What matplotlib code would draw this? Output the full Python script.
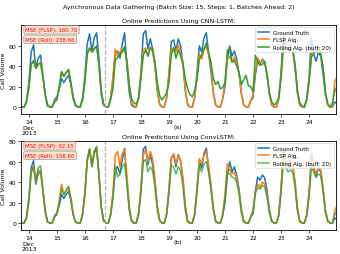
import numpy as np
import matplotlib
matplotlib.use("Agg")
import matplotlib.pyplot as plt

# ---------------- data (2-hourly, from Dec 13 18:00) ----------------
start_day = 13.75          # Dec 13, 18:00
step_hours = 2
boundary_day = 16.73       # start of online predictions
day_ticks = [14, 15, 16, 17, 18, 19, 20, 21, 22, 23, 24]
day_labels = ["14\nDec\n2013", "15", "16", "17", "18", "19", "20", "21", "22", "23", "24"]

ground_truth = [
    0, 0, 6,
    24, 54, 61, 38, 48, 51, 32, 12, 1, 0, 0, 7,
    10, 17, 28, 24, 28, 31, 22, 8, 1, 0, 0, 9,
    30, 62, 72, 55, 68, 73, 48, 16, 3, 0, 0, 9,
    26, 52, 55, 48, 62, 73, 40, 14, 2, 0, 0, 10,
    34, 72, 75, 57, 67, 57, 40, 16, 3, 0, 0, 9,
    32, 64, 66, 55, 67, 60, 42, 16, 2, 0, 0, 9,
    34, 60, 54, 68, 73, 52, 34, 14, 2, 0, 0, 8,
    20, 47, 60, 50, 55, 47, 33, 13, 2, 0, 0, 6,
    9, 32, 45, 42, 47, 44, 32, 13, 2, 0, 0, 8,
    34, 72, 60, 56, 62, 56, 38, 14, 2, 0, 0, 8,
    30, 68, 52, 45, 54, 50, 32, 12, 2, 0, 0, 5,
    3,
]

cnn_flsp = [
    0, 0, 5,
    20, 42, 46, 38, 42, 44, 30, 12, 2, 0, 0, 5,
    8, 20, 34, 30, 34, 36, 24, 9, 2, 0, 0, 7,
    26, 52, 58, 54, 57, 60, 42, 14, 2, 0, 0, 8,
    30, 57, 50, 54, 58, 55, 47, 20, 4, 1, 0, 9,
    32, 56, 58, 50, 59, 54, 42, 16, 2, 0, 0, 9,
    34, 57, 58, 54, 61, 52, 44, 17, 3, 0, 0, 10,
    30, 52, 47, 56, 60, 51, 40, 15, 2, 0, 0, 8,
    25, 47, 50, 44, 49, 44, 33, 13, 2, 0, 0, 6,
    12, 36, 48, 44, 46, 43, 32, 12, 2, 0, 0, 8,
    32, 56, 61, 57, 61, 54, 41, 15, 2, 0, 0, 8,
    27, 52, 56, 54, 58, 51, 40, 14, 2, 0, 0, 25,
    30,
]

cnn_roll = [
    0, 0, 5,
    19, 42, 45, 38, 42, 43, 30, 12, 2, 0, 0, 5,
    7, 20, 35, 30, 34, 37, 24, 9, 2, 0, 0, 7,
    25, 52, 58, 54, 57, 60, 42, 13, 2, 0, 0, 7,
    18, 46, 49, 52, 54, 59, 43, 22, 8, 4, 3, 8,
    28, 51, 56, 50, 58, 57, 44, 24, 11, 7, 10, 14,
    24, 52, 58, 48, 56, 50, 42, 28, 18, 12, 10, 16,
    26, 47, 51, 57, 63, 53, 44, 28, 22, 25, 18, 19,
    24, 56, 57, 44, 46, 40, 34, 22, 27, 31, 21, 20,
    15, 51, 44, 41, 42, 45, 31, 14, 5, 2, 4, 9,
    29, 65, 57, 56, 57, 57, 42, 16, 4, 1, 0, 7,
    24, 49, 53, 54, 58, 52, 38, 14, 3, 0, 4, 16,
    20,
]

conv_flsp = [
    0, 0, 5,
    22, 50, 56, 40, 52, 50, 32, 11, 1, 0, 0, 6,
    9, 22, 38, 28, 32, 35, 24, 8, 1, 0, 0, 8,
    28, 60, 72, 56, 70, 74, 48, 15, 2, 0, 0, 8,
    30, 66, 70, 55, 68, 72, 46, 17, 3, 0, 0, 10,
    32, 66, 72, 60, 70, 63, 44, 17, 3, 0, 0, 9,
    34, 63, 68, 58, 66, 61, 44, 17, 2, 0, 0, 9,
    32, 63, 58, 66, 70, 56, 38, 15, 2, 0, 0, 8,
    29, 58, 52, 48, 50, 43, 31, 12, 2, 0, 0, 6,
    13, 31, 38, 35, 40, 38, 28, 11, 2, 0, 0, 8,
    34, 68, 62, 58, 62, 56, 41, 14, 2, 0, 0, 8,
    29, 62, 55, 48, 55, 52, 35, 12, 2, 0, 0, 12,
    17,
]

conv_roll = [
    0, 0, 5,
    21, 49, 55, 40, 54, 56, 34, 11, 1, 0, 0, 6,
    8, 20, 33, 28, 32, 36, 24, 8, 1, 0, 0, 8,
    28, 61, 73, 56, 70, 75, 48, 15, 2, 0, 0, 7,
    24, 56, 45, 48, 55, 58, 38, 12, 2, 0, 0, 8,
    29, 60, 62, 50, 55, 51, 35, 12, 2, 0, 0, 8,
    29, 56, 55, 48, 55, 51, 35, 12, 1, 0, 0, 8,
    29, 56, 50, 58, 60, 49, 33, 12, 1, 0, 0, 7,
    24, 50, 48, 45, 44, 40, 29, 10, 1, 0, 0, 5,
    11, 29, 35, 33, 37, 35, 25, 10, 1, 0, 0, 7,
    29, 60, 55, 50, 52, 49, 35, 12, 1, 0, 0, 7,
    26, 55, 50, 45, 48, 46, 31, 10, 1, 0, 0, 8,
    12,
]

mse_cnn = ["MSE (FLSP): 180.78", "MSE (Roll): 238.66"]
mse_conv = ["MSE (FLSP): 92.15", "MSE (Roll): 158.60"]
series_labels = ["Ground Truth", "FLSP Alg.", "Rolling Alg. (buff: 20)"]

# ---------------- plotting ----------------
plt.rcParams['font.family'] = ['DejaVu Sans']
FS = 4.4

x = start_day + np.arange(len(ground_truth)) * step_hours / 24.0

fig = plt.figure(figsize=(3.4, 2.55), dpi=100)
ax1 = fig.add_axes([21/340, 1-115/255, 315/340, 89/255])
ax2 = fig.add_axes([21/340, 1-231/255, 315/340, 89/255])

fig.text(0.525, 1-7/255, "Aynchronous Data Gathering (Batch Size: 15, Steps: 1, Batches Ahead: 2)",
         ha='center', va='center', fontsize=4.5)

colors = ['#1f77b4', '#ff7f0e', '#2ca02c']

def panel(ax, flsp, roll, title, mse, tag, ylim, yticks, ytag, green_alpha):
    ax.plot(x, ground_truth, color=colors[0], lw=1.1, label=series_labels[0])
    ax.plot(x, flsp, color=colors[1], lw=1.1, label=series_labels[1])
    ax.plot(x, roll, color=colors[2], lw=1.1, alpha=green_alpha, label=series_labels[2])
    ax.axvline(boundary_day, color='#b0b0b0', ls='--', lw=0.9)
    ax.set_xlim(13.72, 24.96)
    ax.set_ylim(*ylim)
    ax.set_yticks(yticks)
    ax.set_xticks(day_ticks)
    ax.set_xticklabels(day_labels)
    ax.tick_params(labelsize=FS, length=2, width=0.5, pad=1.5)
    for s in ax.spines.values():
        s.set_linewidth(0.6)
    ax.set_ylabel("Call Volume", fontsize=FS, labelpad=2)
    ax.set_title(title, fontsize=4.5, pad=2.5)
    leg = ax.legend(loc='upper right', fontsize=4.0, handlelength=2.0, borderpad=0.45,
                    labelspacing=0.45, handletextpad=0.8, framealpha=0.8,
                    borderaxespad=0.4)
    leg.get_frame().set_linewidth(0.5)
    for i, t in enumerate(mse):
        ax.text(0.014, 0.945 - i*0.105, t, transform=ax.transAxes, fontsize=3.9,
                color='red', ha='left', va='center',
                bbox=dict(boxstyle='round,pad=0.3', fc='#fbe3cf', ec='#999999', lw=0.5))
    fig.text(0.522, ytag, tag, ha='center', va='center', fontsize=FS)

panel(ax1, cnn_flsp, cnn_roll, "Online Predictions Using CNN-LSTM:", mse_cnn, "(a)",
      (-6.9, 80.6), [0, 20, 40, 60], 1-127/255, 1.0)
panel(ax2, conv_flsp, conv_roll, "Online Predictions Using ConvLSTM:", mse_conv, "(b)",
      (-6.8, 80.2), [0, 20, 40, 60, 80], 1-243/255, 0.75)

fig.savefig("out.png", dpi=100)
